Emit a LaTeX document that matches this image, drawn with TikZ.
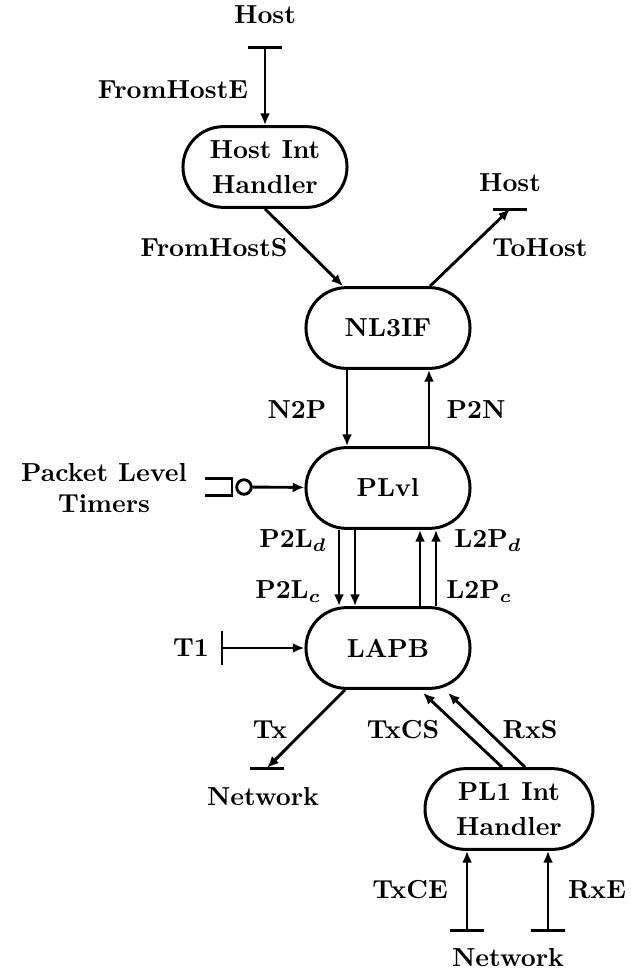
\documentclass[tikz,border=0pt]{standalone}
\usepackage{amsmath,amssymb}
\usepackage{tikz}
\usetikzlibrary{arrows.meta,calc}
\tikzset{
  proc/.style={draw,line width=1.15pt,rounded corners=15.5pt,minimum width=63pt,minimum height=31pt,inner sep=0pt,align=center,font=\bfseries},
  lbl/.style={inner sep=0pt,align=center,font=\bfseries\boldmath},
  wire/.style={line width=1.1pt,-{Latex[length=4.5pt,width=3.8pt]}},
  tbar/.style={line width=1.15pt}
}
\newcommand{\hbarat}[1]{\draw[tbar] ($(#1)+(-17,0)$)--($(#1)+(17,0)$);}

\begin{document}
\begin{tikzpicture}[x=0.384pt,y=-0.384pt]
  \useasboundingbox (0,0) rectangle (631,973);
  % processes
  \node[proc] (hih) at (265,167) {Host Int\\[1.5pt]Handler};
  \node[proc] (nl3) at (388,328) {NL3IF};
  \node[proc] (plvl) at (388,488) {PLvl};
  \node[proc] (lapb) at (388,648) {LAPB};
  \node[proc,minimum width=64.5pt] (pl1) at (509,809) {PL1 Int\\[1.5pt]Handler};
  % end points
  \node[lbl] (hostin) at (265,15) {Host};
  \node[lbl] (hostout) at (510,183) {Host};
  \node[lbl] (timers) at (104,488) {Packet Level\\Timers};
  \node[lbl] (t1) at (191,648) {T1};
  \node[lbl] (netout) at (263,797) {Network};
  \node[lbl] (netin) at (508,958) {Network};
  \coordinate (hostinb) at (265,47);
  \coordinate (hostoutb) at (510,209);
  \coordinate (t1b) at (222,648);
  \coordinate (netoutb) at (267,768);
  \coordinate (txceb) at (467,930);
  \coordinate (rxeb) at (548,930);
  \node[draw,circle,line width=1.1pt,minimum size=5.6pt,inner sep=0pt] (tmr) at (244,487) {};
  \hbarat{hostinb}\hbarat{hostoutb}\hbarat{netoutb}\hbarat{txceb}\hbarat{rxeb}
  \draw[tbar] ($(t1b)+(0,-17)$)--($(t1b)+(0,17)$);
  \draw[tbar] (205,478)--(232,478)--(232,495)--(205,495);
  % connectors
  \draw[wire] (hostinb)--(hih);
  \draw[wire] (hih.south)--($(nl3.north)+(-45,0)$);
  \draw[wire] ($(nl3.north)+(42,0)$)--(hostoutb);
  \draw[wire] ($(nl3.south)+(-41,0)$)--($(plvl.north)+(-41,0)$);
  \draw[wire] ($(plvl.north)+(41,0)$)--($(nl3.south)+(41,0)$);
  \draw[wire] (tmr)--(plvl);
  \foreach \dx in {-49,-33}
    \draw[wire] ($(plvl.south)+(\dx,0)$)--($(lapb.north)+(\dx,0)$);
  \foreach \dx in {32,48}
    \draw[wire] ($(lapb.north)+(\dx,0)$)--($(plvl.south)+(\dx,0)$);
  \draw[wire] (t1b)--(lapb);
  \draw[wire] ($(lapb.south)+(-43,0)$)--(netoutb);
  \draw[wire] ($(pl1.north)+(-7,0)$)--($(lapb.south)+(35,3)$);
  \draw[wire] ($(pl1.north)+(16,0)$)--($(lapb.south)+(60,3)$);
  \draw[wire] (txceb)--(txceb |- pl1.south);
  \draw[wire] (rxeb)--(rxeb |- pl1.south);
  % labels
  \node[lbl] at (173,90) {FromHostE};
  \node[lbl] at (214,248) {FromHostS};
  \node[lbl] at (540,248) {ToHost};
  \node[lbl] at (297,410) {N2P};
  \node[lbl] at (476,410) {P2N};
  \node[lbl] at (293,541) {P2L$_d$};
  \node[lbl] at (288,592) {P2L$_c$};
  \node[lbl] at (488,541) {L2P$_d$};
  \node[lbl] at (479,592) {L2P$_c$};
  \node[lbl] at (270,730) {Tx};
  \node[lbl] at (403,730) {TxCS};
  \node[lbl] at (530,730) {RxS};
  \node[lbl] at (410,890) {TxCE};
  \node[lbl] at (597,890) {RxE};
\end{tikzpicture}
\end{document}
